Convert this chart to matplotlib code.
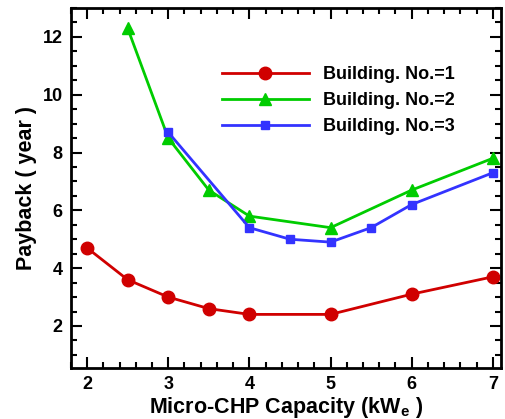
import numpy as np
import matplotlib.pyplot as plt
from matplotlib.ticker import MultipleLocator

plt.rcParams.update({
    "font.family": "sans-serif",
    "font.sans-serif": ["Liberation Sans"],
    "font.weight": "bold",
    "mathtext.fontset": "custom",
    "mathtext.rm": "Liberation Sans:bold",
    "mathtext.it": "Liberation Sans:bold",
    "mathtext.bf": "Liberation Sans:bold",
})

x1 = [2, 2.5, 3, 3.5, 4, 5, 6, 7]
y1 = [4.7, 3.6, 3.0, 2.6, 2.4, 2.4, 3.1, 3.7]
x2 = [2.5, 3, 3.5, 4, 5, 6, 7]
y2 = [12.3, 8.5, 6.7, 5.8, 5.4, 6.7, 7.8]
x3 = [3, 4, 4.5, 5, 5.5, 6, 7]
y3 = [8.7, 5.4, 5.0, 4.9, 5.4, 6.2, 7.3]
labels = ['Building. No.=1', 'Building. No.=2', 'Building. No.=3']

fig = plt.figure(figsize=(5.06, 4.19), dpi=100)
ax = fig.add_axes([0.140, 0.122, 0.850, 0.859])

ax.plot(x1, y1, color='#d00000', lw=2, marker='o', ms=9, label=labels[0])
ax.plot(x2, y2, color='#00cc00', lw=2, marker='^', ms=8, label=labels[1])
ax.plot(x3, y3, color='#3333ff', lw=2, marker='s', ms=6, label=labels[2])

ax.set_xlim(1.8, 7.1)
ax.set_ylim(0.55, 13.0)
ax.xaxis.set_major_locator(MultipleLocator(1))
ax.xaxis.set_minor_locator(MultipleLocator(0.2))
ax.yaxis.set_major_locator(MultipleLocator(2))
ax.yaxis.set_minor_locator(MultipleLocator(0.5))
ax.set_yticks(np.arange(2, 13, 2))

ax.tick_params(which='both', direction='in', top=True, right=True, labelsize=13, width=1.5)
ax.tick_params(which='major', length=8, pad=6)
ax.tick_params(which='minor', length=4)
for s in ax.spines.values():
    s.set_linewidth(2)

ax.set_xlabel(r'Micro-CHP Capacity (kW$_\mathrm{e}$ )', fontsize=15.5, fontweight='bold', labelpad=1)
ax.set_ylabel('Payback ( year )', fontsize=15.5, fontweight='bold', labelpad=4)

ax.legend(loc='upper left', bbox_to_anchor=(0.439, 0.842), bbox_transform=fig.transFigure,
          frameon=False, fontsize=13, borderpad=0, borderaxespad=0,
          handlelength=4.8, handletextpad=0.8, labelspacing=0.5)

plt.savefig('out.png', dpi=100)
